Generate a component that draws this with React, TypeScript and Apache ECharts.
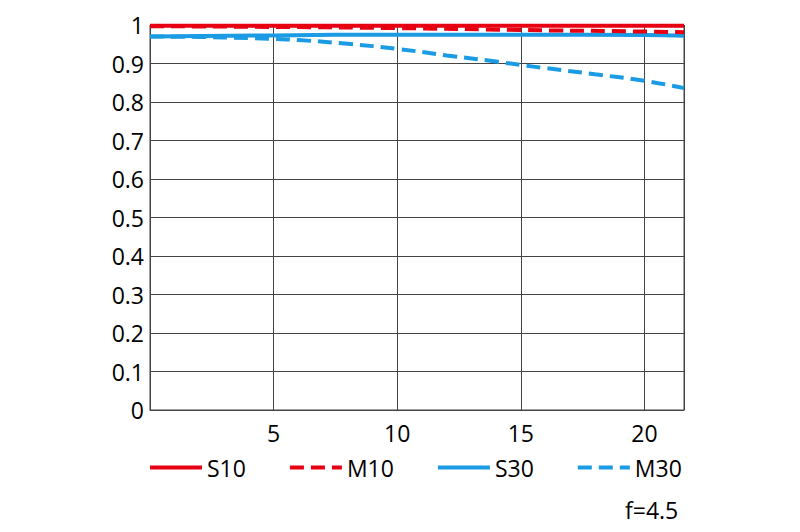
import React, { useEffect, useRef } from "react";
import * as echarts from "echarts";

const xS10 = [0, 21.6];
const yS10 = [0.998, 0.998];
const xM10 = [0, 5, 10, 15, 20, 21.6];
const yM10 = [0.997, 0.995, 0.992, 0.987, 0.983, 0.981];
const xS30 = [0, 5, 10, 15, 20, 21.6];
const yS30 = [0.97, 0.973, 0.975, 0.975, 0.974, 0.972];
const xM30 = [0, 2, 4, 5, 6, 8, 10, 12, 14, 15, 16, 18, 20, 21.6];
const yM30 = [0.97, 0.969, 0.966, 0.964, 0.961, 0.951, 0.938, 0.921, 0.905, 0.896, 0.888, 0.872, 0.855, 0.836];
const seriesNames = ["S10", "M10", "S30", "M30"];
const apertureLabel = "f=4.5";

const RED = "#e60012";
const BLUE = "#1a9be3";
const FONT = "'Open Sans', 'Noto Sans', sans-serif";

const zip = (xs: number[], ys: number[]) => xs.map((x, i) => [x, ys[i]]);

export default function App() {
  const ref = useRef<HTMLDivElement>(null);
  useEffect(() => {
    if (!ref.current) return;
    const chart = echarts.init(ref.current, null, { renderer: "svg" });
    const dash = [14, 7];
    chart.setOption({
      animation: false,
      backgroundColor: "#ffffff",
      textStyle: { fontFamily: FONT },
      grid: {
        left: 150,
        right: 116,
        top: 25,
        bottom: 122,
        show: true,
        borderColor: "#444",
        borderWidth: 1,
      },
      xAxis: {
        type: "value",
        min: 0,
        max: 21.6,
        interval: 5,
        axisLine: { show: true, lineStyle: { color: "#444", width: 1 } },
        axisTick: { show: false },
        splitLine: { show: true, lineStyle: { color: "#444", width: 1 } },
        axisLabel: {
          color: "#000",
          fontSize: 23,
          fontWeight: 500,
          fontFamily: FONT,
          margin: 11,
          formatter: (v: number) => (v > 0 && v % 5 === 0 ? String(v) : ""),
        },
      },
      yAxis: {
        type: "value",
        min: 0,
        max: 1,
        interval: 0.1,
        axisLine: { show: true, lineStyle: { color: "#444", width: 1 } },
        axisTick: { show: false },
        splitLine: { show: true, lineStyle: { color: "#444", width: 1 } },
        axisLabel: {
          color: "#000",
          fontSize: 23,
          fontWeight: 500,
          fontFamily: FONT,
          margin: 6,
          formatter: (v: number) => String(Math.round(v * 10) / 10),
        },
      },
      legend: {
        left: 148,
        top: 456,
        padding: 0,
        itemWidth: 52,
        itemHeight: 14,
        itemGap: 42,
        itemStyle: { opacity: 0 },
        lineStyle: { width: 4 },
        textStyle: { fontSize: 23, fontWeight: 500, color: "#000", fontFamily: FONT, padding: [0, 0, 0, 0] },
        data: seriesNames,
      },
      graphic: [
        {
          type: "text",
          left: 625,
          top: 498,
          style: { text: apertureLabel, fontSize: 23, fontWeight: 500, fill: "#000", fontFamily: FONT },
        },
      ],
      series: [
        {
          name: seriesNames[2],
          type: "line",
          symbol: "none",
          smooth: true,
          data: zip(xS30, yS30),
          lineStyle: { color: BLUE, width: 4 },
          itemStyle: { color: BLUE },
          z: 2,
        },
        {
          name: seriesNames[3],
          type: "line",
          symbol: "none",
          smooth: true,
          data: zip(xM30, yM30),
          lineStyle: { color: BLUE, width: 4, type: dash },
          itemStyle: { color: BLUE },
          z: 2,
        },
        {
          name: seriesNames[0],
          type: "line",
          symbol: "none",
          data: zip(xS10, yS10),
          lineStyle: { color: RED, width: 4 },
          itemStyle: { color: RED },
          z: 3,
        },
        {
          name: seriesNames[1],
          type: "line",
          symbol: "none",
          smooth: true,
          data: zip(xM10, yM10),
          lineStyle: { color: RED, width: 4, type: dash },
          itemStyle: { color: RED },
          z: 3,
        },
      ],
    });
    return () => chart.dispose();
  }, []);
  return (
    <div
      ref={ref}
      style={{ position: "absolute", left: 0, top: 0, width: 800, height: 532 }}
    />
  );
}
